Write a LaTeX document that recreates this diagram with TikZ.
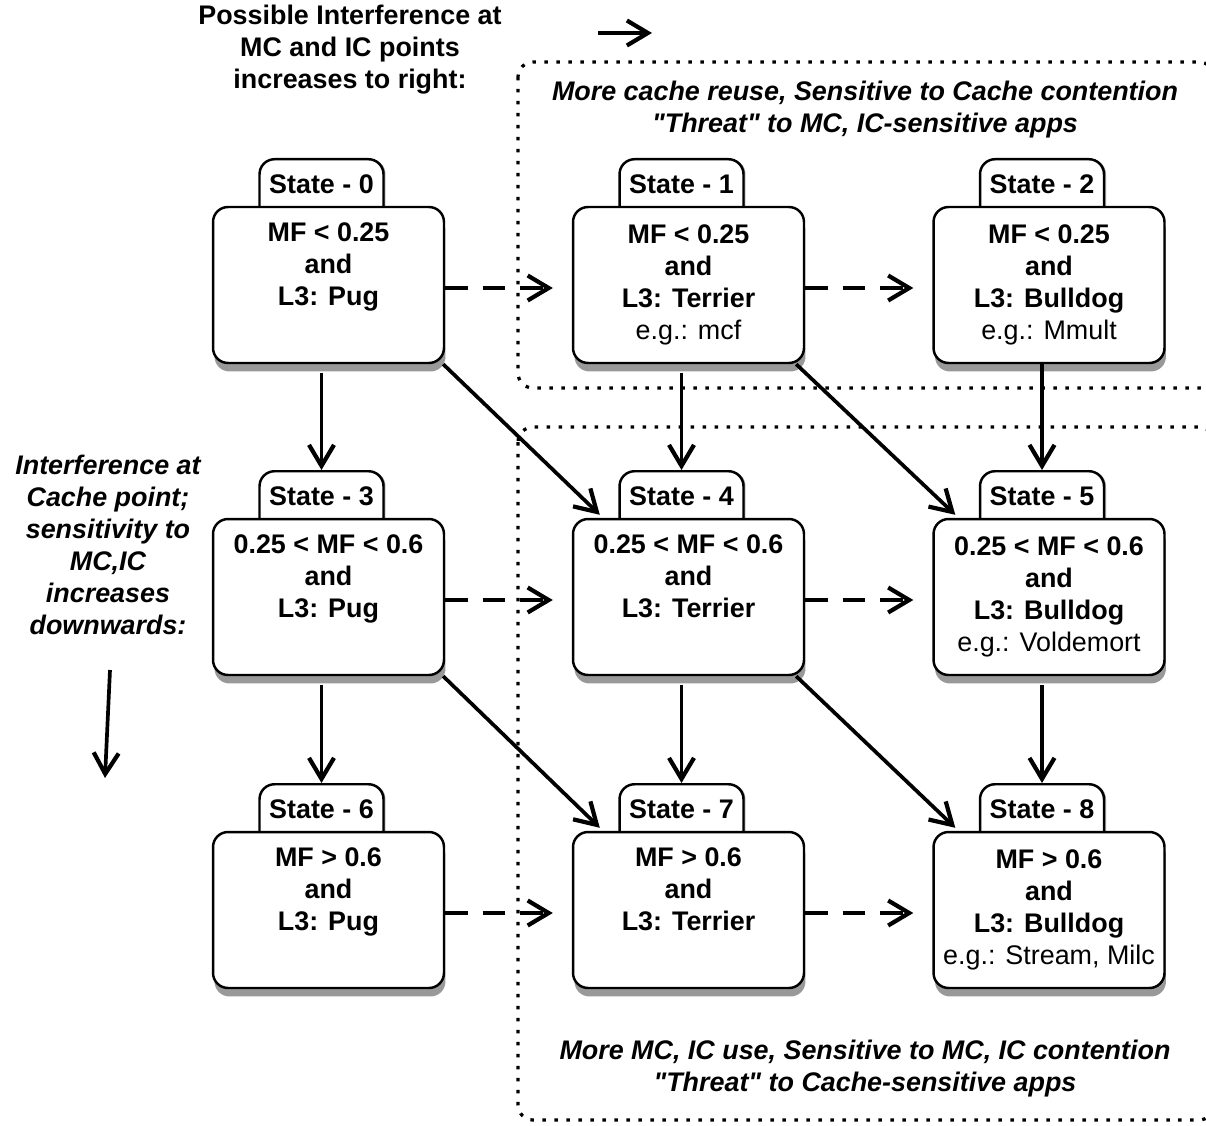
\documentclass[tikz,border=0pt]{standalone}
\usepackage{fontspec}
\setmainfont{Liberation Sans}
\usetikzlibrary{arrows.meta,shadows}

\begin{document}
\begin{tikzpicture}[x=0.02cm,y=-0.02cm,
		statebox/.style={draw,line width=1.4pt,fill=white,rounded corners=0.3cm,minimum width=4.62cm,minimum height=3.12cm,align=center,font=\fontsize{15.3}{18.2}\selectfont\bfseries,execute at begin node=\rule{0pt}{0.56cm},drop shadow={shadow xshift=0.03cm,shadow yshift=-0.17cm,fill=black!40,opacity=1}},
		statetab/.style={draw,line width=1.4pt,fill=white,rounded corners=0.3cm,minimum width=2.48cm,inner ysep=0.1cm,text height=0.58cm,text depth=0.6cm,anchor=north,font=\fontsize{15.3}{18.2}\selectfont\bfseries,drop shadow={shadow xshift=0.04cm,shadow yshift=0cm,fill=black!40,opacity=1}},
		move/.style={line width=2.1pt,-{Straight Barb[length=0.42cm,width=0.5cm,line width=2.4pt]}},
		hop/.style={move,dash pattern=on 0.45cm off 0.3cm},
		zone/.style={line width=0.065cm,dash pattern=on 0.07cm off 0.17cm,rounded corners=0.3cm},
		remark/.style={align=center,font=\fontsize{15.3}{18.2}\selectfont\bfseries}]
	\clip (0,0) rectangle (1206,1125);
	\draw[zone] (518,62) rectangle (1214,388);
	\draw[zone] (518,427) rectangle (1214,1120);
	\node[remark] (topnote) at (350,50) {Possible Interference at\\MC and IC points\\increases to right:};
	\node[remark,font=\fontsize{15.3}{18.2}\selectfont\bfseries\itshape] (leftnote) at (108,545) {Interference at\\Cache point;\\sensitivity to\\MC,IC\\increases\\downwards:};
	\node[remark,font=\fontsize{15.3}{18.2}\selectfont\bfseries\itshape] (cachenote) at (865,110) {More cache reuse, Sensitive to Cache contention\\\textquotedbl Threat\textquotedbl{} to MC, IC-sensitive apps};
	\node[remark,font=\fontsize{15.3}{18.2}\selectfont\bfseries\itshape] (mcnote) at (865,1069) {More MC, IC use, Sensitive to MC, IC contention\\\textquotedbl Threat\textquotedbl{} to Cache-sensitive apps};
	\coordinate (r0) at (598,33);
	\coordinate (r1) at (652,33);
	\coordinate (d0) at (110,670);
	\coordinate (d1) at (105,778);
	\draw[move] (r0) -- (r1);
	\draw[move] (d0) -- (d1);
	\node[statetab] (t0) at (321.5,158) {State - 0};
	\node[statebox] (s0) at (328.5,285) {MF < 0.25\\and\\L3: Pug\\\strut};
	\node[statetab] (t1) at (681.5,158) {State - 1};
	\node[statebox] (s1) at (688.5,285) {MF < 0.25\\and\\L3: Terrier\\{\mdseries e.g.: mcf}};
	\node[statetab] (t2) at (1042,158) {State - 2};
	\node[statebox] (s2) at (1049,285) {MF < 0.25\\and\\L3: Bulldog\\{\mdseries e.g.: Mmult}};
	\node[statetab] (t3) at (321.5,470) {State - 3};
	\node[statebox] (s3) at (328.5,597) {0.25 < MF < 0.6\\and\\L3: Pug\\\strut};
	\node[statetab] (t4) at (681.5,470) {State - 4};
	\node[statebox] (s4) at (688.5,597) {0.25 < MF < 0.6\\and\\L3: Terrier\\\strut};
	\node[statetab] (t5) at (1042,470) {State - 5};
	\node[statebox] (s5) at (1049,597) {0.25 < MF < 0.6\\and\\L3: Bulldog\\{\mdseries e.g.: Voldemort}};
	\node[statetab] (t6) at (321.5,783) {State - 6};
	\node[statebox] (s6) at (328.5,910) {MF > 0.6\\and\\L3: Pug\\\strut};
	\node[statetab] (t7) at (681.5,783) {State - 7};
	\node[statebox] (s7) at (688.5,910) {MF > 0.6\\and\\L3: Terrier\\\strut};
	\node[statetab] (t8) at (1042,783) {State - 8};
	\node[statebox] (s8) at (1049,910) {MF > 0.6\\and\\L3: Bulldog\\{\mdseries e.g.: Stream, Milc}};
	\draw[hop] ([yshift=-0.06cm]s0.east) -- ([xshift=-0.38cm,yshift=-0.06cm]s1.west);
	\draw[hop] ([yshift=-0.06cm]s1.east) -- ([xshift=-0.38cm,yshift=-0.06cm]s2.west);
	\draw[hop] ([yshift=-0.06cm]s3.east) -- ([xshift=-0.38cm,yshift=-0.06cm]s4.west);
	\draw[hop] ([yshift=-0.06cm]s4.east) -- ([xshift=-0.38cm,yshift=-0.06cm]s5.west);
	\draw[hop] ([yshift=-0.06cm]s6.east) -- ([xshift=-0.38cm,yshift=-0.06cm]s7.west);
	\draw[hop] ([yshift=-0.06cm]s7.east) -- ([xshift=-0.38cm,yshift=-0.06cm]s8.west);
	\draw[move,shorten <=0.18cm] (t3.north |- s0.south) -- (t3.north);
	\draw[move,shorten <=0.18cm] (t4.north |- s1.south) -- (t4.north);
	\draw[move] (t5.north |- s2.south) -- (t5.north);
	\draw[move,shorten <=0.18cm] (t6.north |- s3.south) -- (t6.north);
	\draw[move,shorten <=0.18cm] (t7.north |- s4.south) -- (t7.north);
	\draw[move,shorten <=0.18cm] (t8.north |- s5.south) -- (t8.north);
	\draw[move] ([xshift=-0.04cm]s0.south east) -- ([xshift=0.56cm,yshift=0.06cm]s4.north west);
	\draw[move] ([xshift=-0.18cm]s1.south east) -- ([xshift=0.46cm,yshift=0.06cm]s5.north west);
	\draw[move] ([xshift=-0.04cm]s3.south east) -- ([xshift=0.56cm,yshift=0.06cm]s7.north west);
	\draw[move] ([xshift=-0.18cm]s4.south east) -- ([xshift=0.46cm,yshift=0.06cm]s8.north west);
\end{tikzpicture}
\end{document}
